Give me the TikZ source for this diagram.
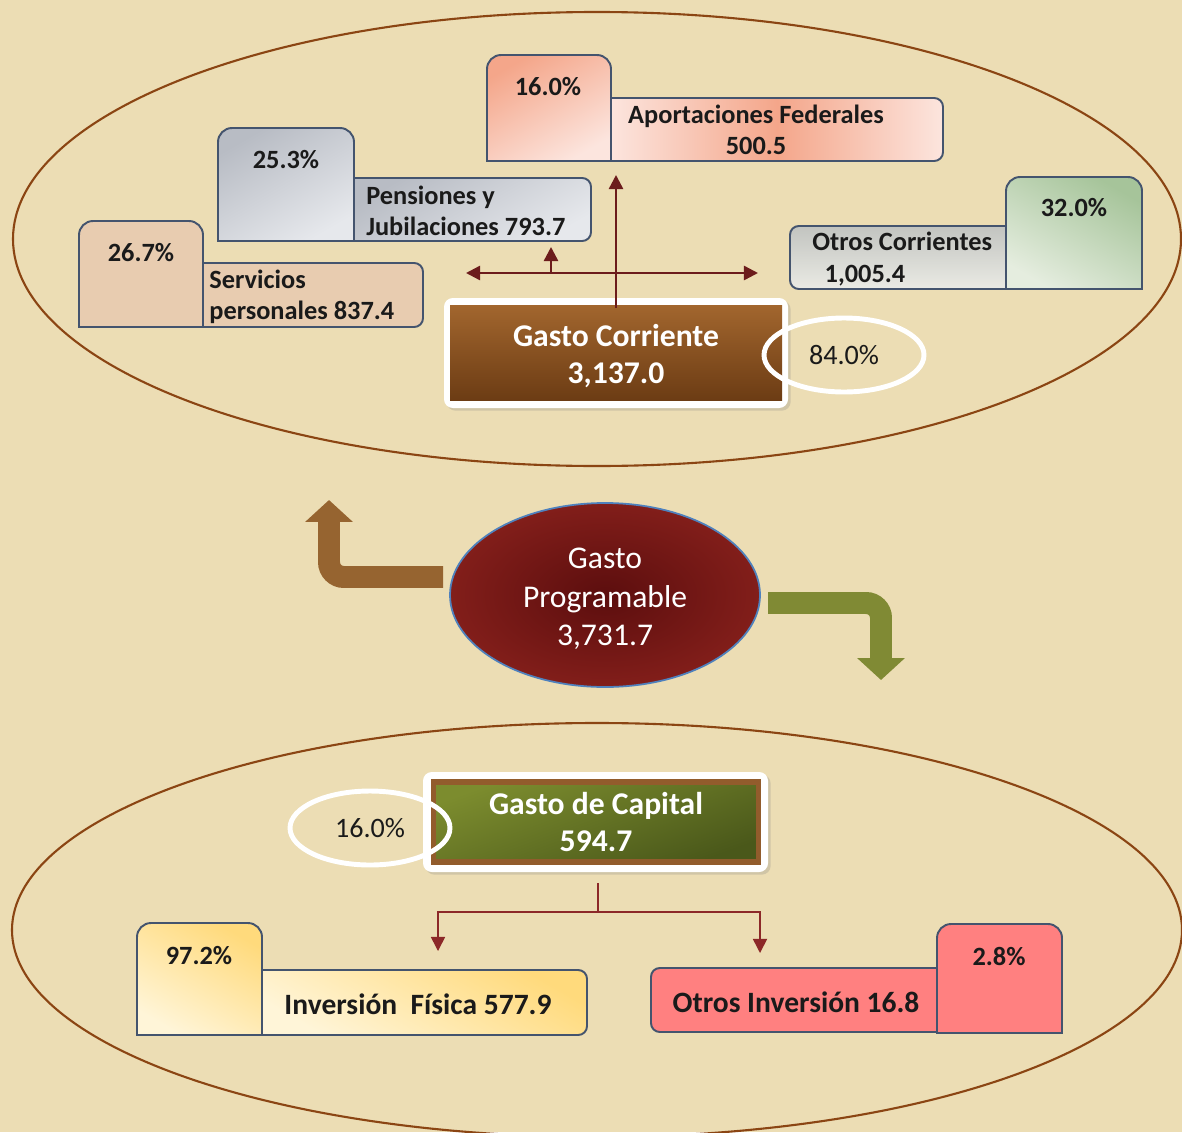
\documentclass[tikz,border=0pt]{standalone}
\usepackage{fontspec}
\setmainfont{Carlito}
\usetikzlibrary{positioning, calc, shapes.geometric, arrows.meta, shadows}
\definecolor{parchment}{RGB}{236,221,180}
\definecolor{rim}{RGB}{139,69,19}
\definecolor{edge}{RGB}{68,84,110}
\definecolor{ink}{RGB}{26,26,26}
\definecolor{tan}{RGB}{232,204,176}
\definecolor{grayA}{RGB}{184,188,196}
\definecolor{grayB}{RGB}{230,232,236}
\definecolor{salmonA}{RGB}{244,166,138}
\definecolor{salmonB}{RGB}{252,229,222}
\definecolor{ocgrayA}{RGB}{194,196,192}
\definecolor{ocgrayB}{RGB}{234,234,228}
\definecolor{greenA}{RGB}{166,196,154}
\definecolor{greenB}{RGB}{229,237,223}
\definecolor{yellowA}{RGB}{255,218,124}
\definecolor{yellowB}{RGB}{255,245,216}
\definecolor{pink}{RGB}{255,128,128}
\definecolor{brownTop}{RGB}{162,102,46}
\definecolor{brownBot}{RGB}{108,60,20}
\definecolor{oliveTop}{RGB}{124,140,46}
\definecolor{oliveBot}{RGB}{74,88,26}
\definecolor{frameBrown}{RGB}{146,92,44}
\definecolor{wineIn}{RGB}{92,14,14}
\definecolor{wineOut}{RGB}{130,30,26}
\definecolor{gpedge}{RGB}{79,129,189}
\definecolor{bark}{RGB}{150,100,48}
\definecolor{olivearrow}{RGB}{128,138,52}
\definecolor{arrowred}{RGB}{108,28,28}
\definecolor{treered}{RGB}{140,40,40}
\tikzset{%
	tab/.style={draw=edge, line width=1.1pt},
	pct/.style={font=\bfseries\fontsize{15}{18}\selectfont, text=ink, inner sep=0pt},
	lbl/.style={font=\bfseries\fontsize{15}{18}\selectfont, text=ink, align=left, inner sep=0pt},
	lblc/.style={lbl, align=center},
	lblbig/.style={lbl, align=center, font=\bfseries\fontsize{16.8}{20}\selectfont},
	ring/.style={draw=white, line width=2.8pt, ellipse, minimum width=3.2cm,%
		minimum height=1.48cm, inner sep=0pt, text=ink, font=\fontsize{16}{19}\selectfont},
	plate/.style={fill=white, rounded corners=5pt,%
		drop shadow={opacity=0.25, shadow xshift=1.5pt, shadow yshift=-1.5pt}},
	title/.style={font=\bfseries\fontsize{18}{21.5}\selectfont, text=white, align=center},
	hubtext/.style={ellipse, minimum width=6.2cm, minimum height=3.68cm, text=white,%
		align=center, font=\fontsize{18}{22}\selectfont},
	conn/.style={draw=arrowred, line width=1.4pt},
	sel/.style={-{Triangle[width=8pt,length=8pt]}},
	tree/.style={draw=treered, line width=0.9pt},
	bentarrow/.style={line width=12.5pt, rounded corners=8.5pt, -{Triangle[width=26.5pt,length=12.5pt]}},
	orbit/.style={draw=rim, line width=1.2pt}
}
\begin{document}
\begin{tikzpicture}[x=0.02cm, y=-0.02cm]
	\useasboundingbox (0,0) rectangle (1182,1132);
	\fill[parchment] (0,0) rectangle (1182,1132);
	\begin{scope}
		\clip (0,0) rectangle (1182,1132);
		\draw[orbit] (597,239) ellipse [x radius=584, y radius=227];
		\draw[orbit] (597,930) ellipse [x radius=585, y radius=207];
	\end{scope}

	% gasto corriente
	\draw[tab, fill=tan] (203,263) [rounded corners=5pt] -- (423,263) -- (423,327) [sharp corners] -- (203,327) -- cycle;
	\draw[tab, fill=tan] (79,327) [rounded corners=8pt] -- (79,221) -- (203,221) [sharp corners] -- (203,327) -- cycle;
	\draw[tab, top color=grayA, bottom color=grayB, shading angle=30] (354,178) [rounded corners=5pt] -- (591,178) -- (591,241) [sharp corners] -- (354,241) -- cycle;
	\draw[tab, top color=grayA, bottom color=grayB, shading angle=30] (218,241) [rounded corners=8pt] -- (218,128) -- (354,128) [sharp corners] -- (354,241) -- cycle;
	\draw[tab, left color=salmonB, right color=salmonB, middle color=salmonA] (611,98) [rounded corners=5pt] -- (943,98) -- (943,161) [sharp corners] -- (611,161) -- cycle;
	\draw[tab, top color=salmonA, bottom color=salmonB, shading angle=30] (487,161) [rounded corners=8pt] -- (487,55) -- (611,55) [sharp corners] -- (611,161) -- cycle;
	\draw[tab, top color=ocgrayA, bottom color=ocgrayB] (1006,226) [rounded corners=5pt] -- (790,226) -- (790,289) [sharp corners] -- (1006,289) -- cycle;
	\draw[tab, top color=greenA, bottom color=greenB, shading angle=-30] (1006,289) [rounded corners=8pt] -- (1006,177) -- (1142,177) [sharp corners] -- (1142,289) -- cycle;

	\node[pct] (spPct) at (141,253) {26.7\%};
	\node[lbl, anchor=west] (sp) at (209,297) {Servicios\\personales 837.4};
	\node[pct] (pjPct) at (286,160) {25.3\%};
	\node[lbl, anchor=west] (pj) at (366,211) {Pensiones y\\Jubilaciones 793.7};
	\node[pct] (afPct) at (548,87) {16.0\%};
	\node[lblc] (af) at (756,130) {Aportaciones Federales\\500.5};
	\node[pct] (ocPct) at (1074,208) {32.0\%};
	\node[lbl, anchor=west] (oc) at (812,259) {Otros Corrientes\\\hspace{7pt}1,005.4};

	\fill[plate] (444,298) rectangle (788,408);
	\fill[top color=brownTop, bottom color=brownBot] (450,305) rectangle (782,400);
	\node[title, minimum width=6.64cm, minimum height=1.9cm] (gc) at (616,356) {Gasto Corriente\\3,137.0};
	\node[ring] (gcPct) at (844,355) {84.0\%};

	\coordinate (afFoot) at (616,175);
	\coordinate (hLeft) at (466,273);
	\coordinate (hRight) at (758,273);
	\coordinate (pjStem) at (551,273);
	\coordinate (pjFoot) at (551,247);
	\draw[conn, sel] (gc.north) -- (afFoot);
	\draw[conn, {Triangle[width=8pt,length=8pt]}-{Triangle[width=8pt,length=8pt]}] (hLeft) -- (hRight);
	\draw[conn, sel] (pjStem) -- (pjFoot);

	% gasto programable
	\draw[draw=gpedge, line width=1pt, inner color=wineIn, outer color=wineOut] (605,595) ellipse [x radius=155, y radius=92];
	\node[hubtext] (gp) at (605,599) {Gasto\\Programable\\3,731.7};
	\coordinate (upFrom) at (443,577);
	\coordinate (upTip) at (329,500);
	\coordinate (dnFrom) at (768,603);
	\coordinate (dnTip) at (881,680);
	\draw[bentarrow, draw=bark] (upFrom) -| (upTip);
	\draw[bentarrow, draw=olivearrow] (dnFrom) -| (dnTip);

	% gasto de capital
	\fill[plate] (423,772) rectangle (768,872);
	\node[title, draw=frameBrown, line width=3.2pt, minimum width=6.5cm, minimum height=1.6cm,%
		top color=oliveTop, bottom color=oliveBot, shading angle=20] (gk) at (596,822) {Gasto de Capital\\594.7};
	\node[ring] (gkPct) at (370,828) {16.0\%};

	\coordinate (gkFoot) at (598,883);
	\coordinate (split) at (598,912);
	\coordinate (invTip) at (438,951);
	\coordinate (oiTip) at (760,953);
	\draw[tree] (gkFoot) -- (split);
	\draw[tree, sel] (split) -| (invTip);
	\draw[tree, sel] (split) -| (oiTip);

	\draw[tab, top color=yellowA, bottom color=yellowB, shading angle=-30] (262,970) [rounded corners=5pt] -- (587,970) -- (587,1035) [sharp corners] -- (262,1035) -- cycle;
	\draw[tab, top color=yellowA, bottom color=yellowB, shading angle=-30] (137,1035) [rounded corners=8pt] -- (137,923) -- (262,923) [sharp corners] -- (262,1035) -- cycle;
	\draw[tab, fill=pink] (937,968) [rounded corners=5pt] -- (651,968) -- (651,1032) [sharp corners] -- (937,1032) -- cycle;
	\draw[tab, fill=pink] (937,1033) [rounded corners=8pt] -- (937,924) -- (1062,924) [sharp corners] -- (1062,1033) -- cycle;

	\node[pct] (invPct) at (199,956) {97.2\%};
	\node[lblbig] (inv) at (418,1004) {Inversión\ \ Física 577.9};
	\node[pct] (oiPct) at (999,956) {2.8\%};
	\node[lblbig] (oi) at (796,1002) {Otros Inversión 16.8};
\end{tikzpicture}
\end{document}
